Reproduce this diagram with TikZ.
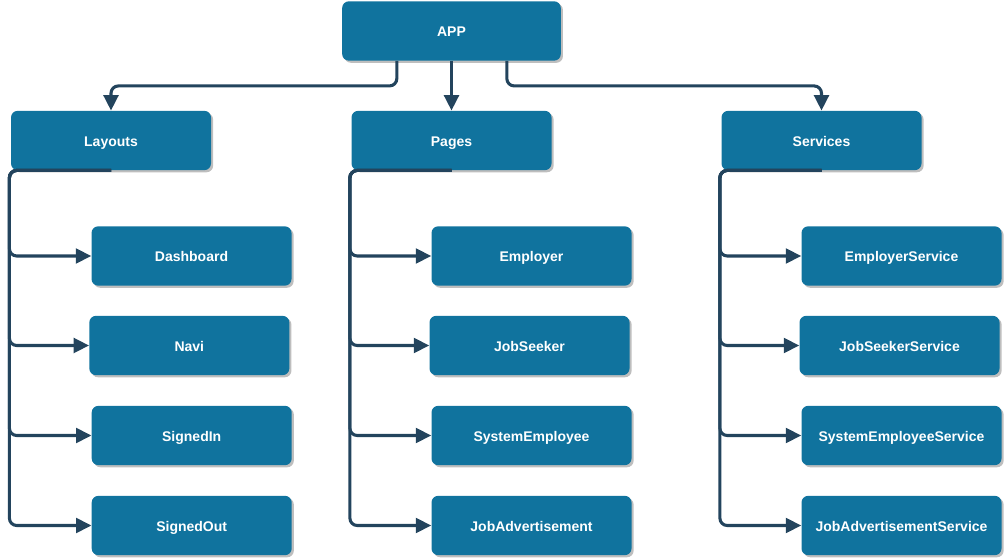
\documentclass[tikz,border=0pt]{standalone}
\usepackage{fontspec}
\setmainfont{Liberation Sans}
\usepackage{tikz}
\usetikzlibrary{shapes,shadows,arrows.meta}
\definecolor{app_blue}{RGB}{16, 115, 158}
\definecolor{app_line}{RGB}{35, 68, 93}
\definecolor{app_shadow}{RGB}{190, 190, 190}
\tikzstyle{box}=[rectangle,rounded corners=5pt,fill=app_blue,draw=none,
  text=white,font=\fontsize{10.5}{12}\selectfont\bfseries,
  text height=9pt,text depth=0pt,
  minimum width=150pt,minimum height=44.5pt,inner sep=2pt,
  drop shadow={shadow xshift=1.6pt,shadow yshift=-1.6pt,fill=app_shadow,opacity=1}]
\tikzstyle{conn}=[draw=app_line,line width=2.3pt,rounded corners=5.5pt,
  -{Triangle[length=11.5pt,width=11pt]}]

\begin{document}
\begin{tikzpicture}[x=0.75pt,y=-0.75pt]
    \useasboundingbox (0,0) rectangle (1004,559);
    \node [style=box, minimum width=164pt] (app) at (451.5,31) {APP};
    \node [style=box] (lay) at (111,140.5) {Layouts};
    \node [style=box] (pag) at (451.5,140.5) {Pages};
    \node [style=box] (srv) at (821.5,140.5) {Services};
    \node [style=box] (dash) at (191.5,256) {Dashboard};
    \node [style=box] (navi) at (189.3,345.5) {Navi};
    \node [style=box] (sin) at (191.7,435.5) {SignedIn};
    \node [style=box] (sout) at (191.7,525.5) {SignedOut};
    \node [style=box] (emp) at (531.5,256) {Employer};
    \node [style=box] (seek) at (529.5,345.5) {JobSeeker};
    \node [style=box] (semp) at (531.5,435.5) {SystemEmployee};
    \node [style=box] (jadv) at (531.5,525.5) {JobAdvertisement};
    \node [style=box] (emps) at (901.5,256) {EmployerService};
    \node [style=box] (seeks) at (899.5,345.5) {JobSeekerService};
    \node [style=box] (semps) at (901.5,435.5) {SystemEmployeeService};
    \node [style=box] (jadvs) at (901.5,525.5) {JobAdvertisementService};
    % from APP
    \draw [style=conn] ([xshift=-41pt]app.south) -- ++(0,25) -| (lay.north);
    \draw [style=conn] (app.south) to (pag.north);
    \draw [style=conn] ([xshift=41.5pt]app.south) -- ++(0,25) -| (srv.north);
    % Layouts
    \draw [style=conn] (lay.south) -- ([xshift=-1pt]lay.south west) |- (dash.west);
    \draw [style=conn] (lay.south) -- ([xshift=-1pt]lay.south west) |- (navi.west);
    \draw [style=conn] (lay.south) -- ([xshift=-1pt]lay.south west) |- (sin.west);
    \draw [style=conn] (lay.south) -- ([xshift=-1pt]lay.south west) |- (sout.west);
    % Pages
    \draw [style=conn] (pag.south) -- ([xshift=-1pt]pag.south west) |- (emp.west);
    \draw [style=conn] (pag.south) -- ([xshift=-1pt]pag.south west) |- (seek.west);
    \draw [style=conn] (pag.south) -- ([xshift=-1pt]pag.south west) |- (semp.west);
    \draw [style=conn] (pag.south) -- ([xshift=-1pt]pag.south west) |- (jadv.west);
    % Services
    \draw [style=conn] (srv.south) -- ([xshift=-1pt]srv.south west) |- (emps.west);
    \draw [style=conn] (srv.south) -- ([xshift=-1pt]srv.south west) |- (seeks.west);
    \draw [style=conn] (srv.south) -- ([xshift=-1pt]srv.south west) |- (semps.west);
    \draw [style=conn] (srv.south) -- ([xshift=-1pt]srv.south west) |- (jadvs.west);
\end{tikzpicture}
\end{document}
